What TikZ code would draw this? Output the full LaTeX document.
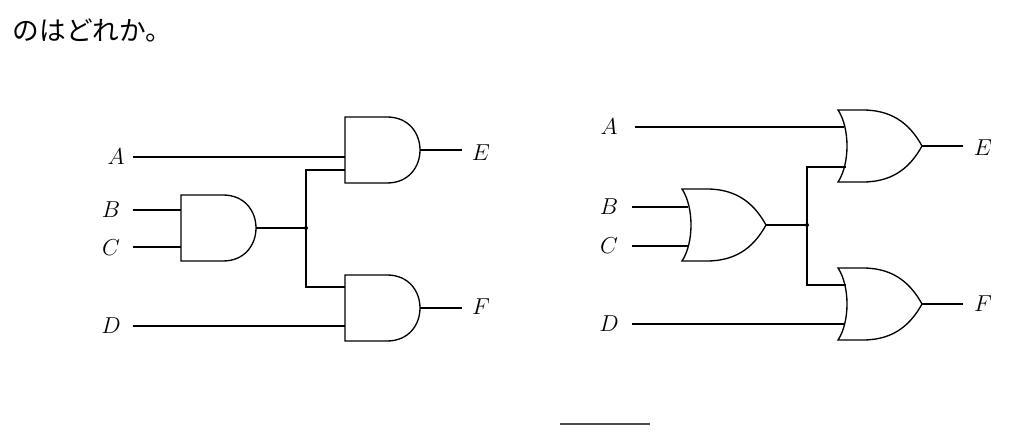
\documentclass[tikz,border=0pt]{standalone}
\usepackage{fontspec}
\newfontfamily\cjk{Noto Sans CJK JP}
\begin{document}
\begin{tikzpicture}[x=0.75pt,y=-0.75pt,line width=1pt,
  lbl/.style={font=\fontsize{19}{22}\selectfont,inner sep=0pt},
  andg/.pic={\draw (0,0) -- (42,0) .. controls (86,0) and (86,66) .. (42,66) -- (0,66) -- cycle;
             \coordinate (-out) at (75,33);},
  org/.pic={\draw (0,0) -- (25,0) .. controls (58,0) and (74,18) .. (84,36)
             .. controls (74,54) and (58,72) .. (25,72) -- (0,72) .. controls (12,54) and (12,18) .. (0,0) -- cycle;
             \coordinate (-out) at (84,36);}]
\useasboundingbox (0,0) rectangle (1014,445);
\node[anchor=west,inner sep=0pt,font=\cjk\fontsize{20}{24}\selectfont] (title) at (12,30) {のはどれか。};
% left circuit
\pic (lE) at (345,117) {andg};
\pic (lF) at (345,275) {andg};
\pic (lG) at (181,195) {andg};
\node[lbl] (lA) at (116,157) {$A$};
\node[lbl] (lB) at (111,210) {$B$};
\node[lbl] (lC) at (111,248) {$C$};
\node[lbl] (lD) at (111,326) {$D$};
\node[lbl] (lEo) at (481,153) {$E$};
\node[lbl] (lFo) at (481,307) {$F$};
\coordinate (lAs) at (133,157); \coordinate (lAe) at (345,157);
\coordinate (lBs) at (133,210); \coordinate (lBe) at (181,210);
\coordinate (lCs) at (133,247); \coordinate (lCe) at (181,247);
\coordinate (lDs) at (133,326); \coordinate (lDe) at (345,326);
\coordinate (lJ) at (306,228);
\coordinate (lE2) at (345,170); \coordinate (lF1) at (345,287);
\coordinate (lEe) at (462,150); \coordinate (lFe) at (462,308);
\draw (lAs) -- (lAe); \draw (lBs) -- (lBe); \draw (lCs) -- (lCe); \draw (lDs) -- (lDe);
\draw (lG-out) -- (lJ);
\draw (lE2) -| (lJ) |- (lF1);
\fill (lJ) circle (2);
\draw (lE-out) -- (lEe); \draw (lF-out) -- (lFe);
% right circuit
\pic (rE) at (838,110) {org};
\pic (rF) at (838,268) {org};
\pic (rG) at (682,189) {org};
\node[lbl] (rA) at (609,127) {$A$};
\node[lbl] (rB) at (609,207) {$B$};
\node[lbl] (rC) at (609,246) {$C$};
\node[lbl] (rD) at (609,324) {$D$};
\node[lbl] (rEo) at (983,148) {$E$};
\node[lbl] (rFo) at (983,304) {$F$};
\coordinate (rAs) at (635,127); \coordinate (rAe) at (844,127);
\coordinate (rBs) at (632,207); \coordinate (rBe) at (688,207);
\coordinate (rCs) at (632,246); \coordinate (rCe) at (688,246);
\coordinate (rDs) at (632,324); \coordinate (rDe) at (845,324);
\coordinate (rJ) at (807,225);
\coordinate (rE2) at (846,167); \coordinate (rF1) at (846,285);
\coordinate (rEe) at (963,146); \coordinate (rFe) at (963,304);
\draw (rAs) -- (rAe); \draw (rBs) -- (rBe); \draw (rCs) -- (rCe); \draw (rDs) -- (rDe);
\draw (rG-out) -- (rJ);
\draw (rE2) -| (rJ) |- (rF1);
\fill (rJ) circle (2);
\draw (rE-out) -- (rEe); \draw (rF-out) -- (rFe);
% bottom fragment
\coordinate (bs) at (560,424); \coordinate (be) at (650,424);
\draw[line width=1.2pt,black!70] (bs) -- (be);
\end{tikzpicture}
\end{document}
